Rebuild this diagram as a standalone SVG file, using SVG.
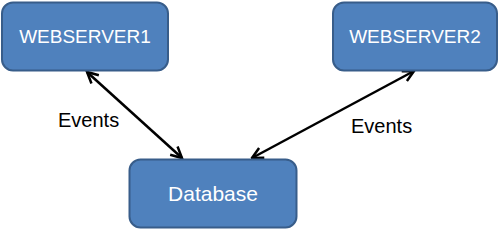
<svg xmlns="http://www.w3.org/2000/svg" width="501" height="231" viewBox="0 0 501 231">
<style>
.box{fill:#4F81BD;stroke:#385D8A;stroke-width:2}
.lbl{font-family:"Liberation Sans",Arial,sans-serif;font-size:19px;fill:#FFFFFF;text-anchor:middle}
.big{font-size:21px}
.ev{font-family:"Liberation Sans",Arial,sans-serif;font-size:20px;fill:#000000}
.conn{stroke:#000;stroke-width:2.5;fill:none}
</style>
<defs>
<marker id="ah" viewBox="0 0 14 14" refX="12.5" refY="7" markerWidth="14" markerHeight="14" markerUnits="userSpaceOnUse" orient="auto-start-reverse">
<polyline points="1.5,1.5 12.5,7 1.5,12.5" fill="none" stroke="#000" stroke-width="2.5"/>
</marker>
</defs>
<g id="connectors">
<line class="conn" x1="87" y1="72" x2="182" y2="158" marker-start="url(#ah)" marker-end="url(#ah)"/>
<line class="conn" x1="414" y1="71" x2="252" y2="158" marker-start="url(#ah)" marker-end="url(#ah)"/>
<text class="ev" x="58" y="127">Events</text>
<text class="ev" x="351" y="133">Events</text>
</g>
<g id="webserver1">
<rect class="box" x="2" y="2.5" width="166" height="68" rx="11"/>
<text class="lbl" x="85" y="43">WEBSERVER1</text>
</g>
<g id="webserver2">
<rect class="box" x="333" y="2.5" width="164" height="68" rx="11"/>
<text class="lbl" x="415" y="43">WEBSERVER2</text>
</g>
<g id="database">
<rect class="box" x="129.5" y="159.5" width="167" height="68" rx="11"/>
<text class="lbl big" x="213" y="201">Database</text>
</g>
</svg>
